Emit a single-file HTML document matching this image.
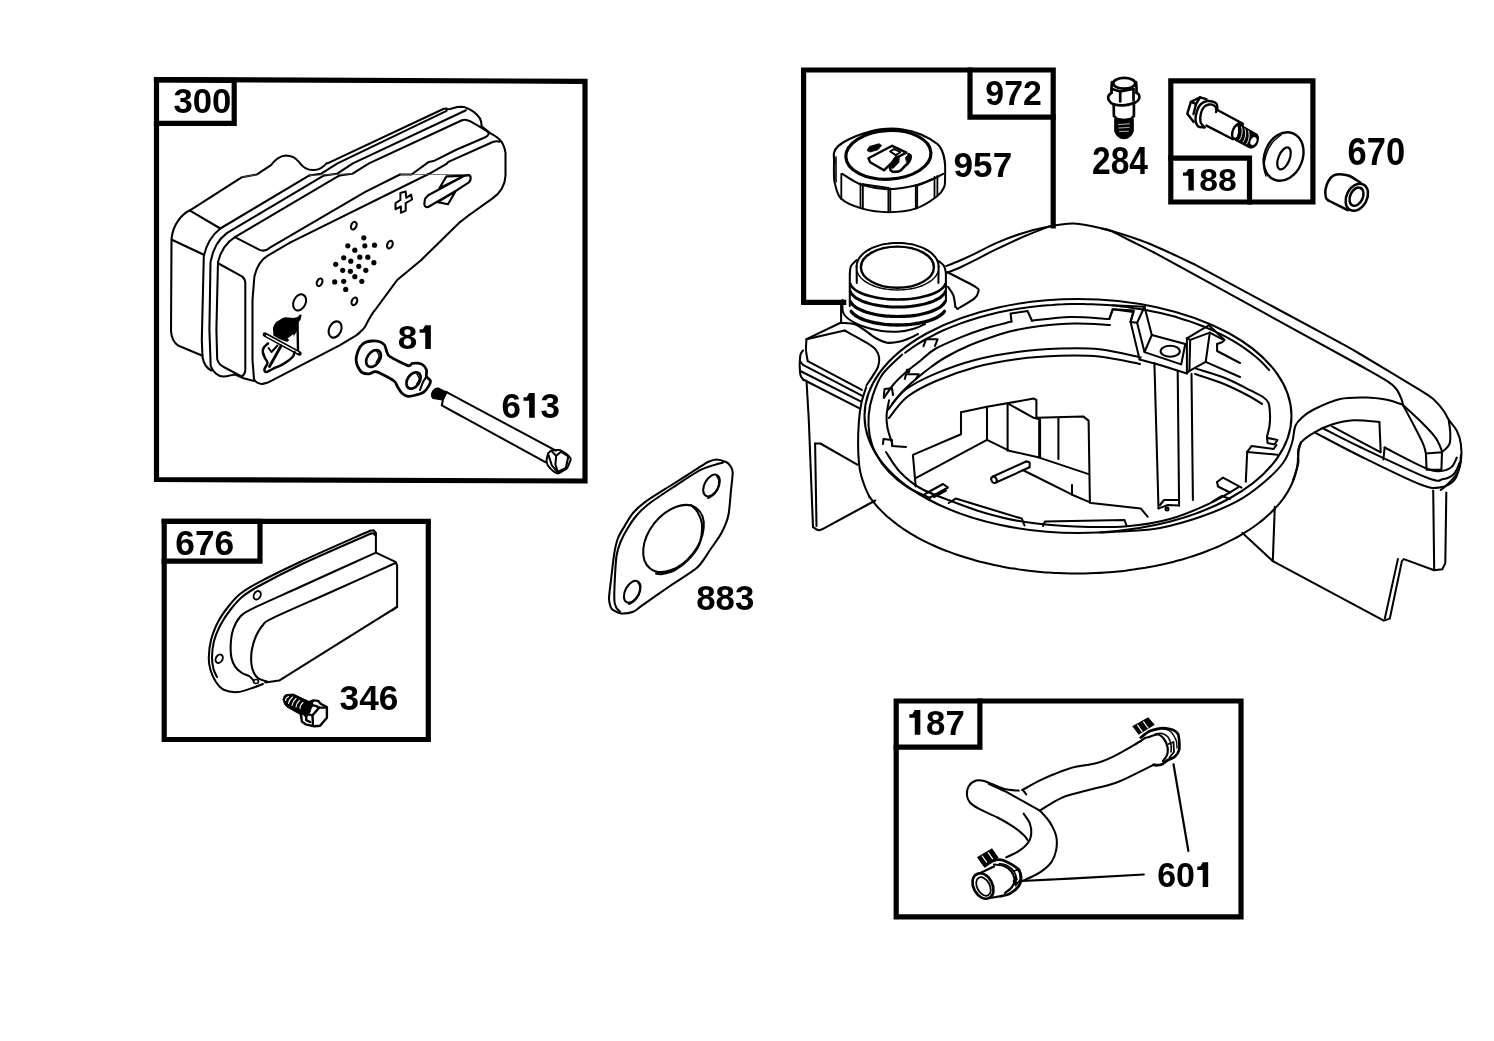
<!DOCTYPE html>
<html><head><meta charset="utf-8"><style>
html,body{margin:0;padding:0;background:#fff;width:1494px;height:1041px;overflow:hidden}
svg{display:block}
.lbl{filter:grayscale(1)}
.B{fill:none;stroke:#000;stroke-width:5.2;stroke-linejoin:miter;stroke-linecap:square}
.T path,.T ellipse,.T circle,.T polyline,.T line{fill:none;stroke:#000;stroke-width:var(--sw,2.05);stroke-linejoin:round;stroke-linecap:round}
.D circle{fill:#000;stroke:none}
.T .seam{stroke-width:0.8;stroke:#555}
.T .F{fill:#000}
.L{font-family:"Liberation Sans",sans-serif;font-weight:bold;font-size:100px;fill:#000}
</style></head><body>
<svg width="1494" height="1041" viewBox="0 0 1494 1041">

<path class="B" d="M156.5,79.5 L585,81.3 L585,481 L156.5,479.5 Z"/>
<path class="B" d="M156.5,79.8 L234.2,80.3 L234.2,123.3 L156.5,123.3"/>
<path class="B" d="M164.2,521.4 L428.3,521.4 L428.3,739.5 L164.2,739.5 Z"/>
<path class="B" d="M164.2,521.4 L260,521.4 L260,561.2 L164.2,561.2"/>
<path class="B" d="M843.7,302.3 L803.6,302.3 L803.6,70 L1053.2,70 L1053.2,226"/>
<path class="B" d="M970,70 L970,117.1 L1053.2,117.1"/>
<path class="B" d="M1170.8,80.8 L1312.9,80.8 L1312.9,202 L1170.8,202 Z"/>
<path class="B" d="M1170.8,158.1 L1249.5,158.1 L1249.5,202"/>
<path class="B" d="M896.2,701 L1241,701 L1241,916.8 L896.2,916.8 Z"/>
<path class="B" d="M896.2,747.2 L979.9,747.2 L979.9,701"/>

<g class="lbl">
<g transform="matrix(0.3472,0,0,0.3563,173.41,112.64)"><text x="0.0" y="0" class="L">3</text><text x="55.6" y="0" class="L">0</text><text x="111.2" y="0" class="L">0</text></g>
<g transform="matrix(0.3535,0,0,0.3507,175.29,554.65)"><text x="0.0" y="0" class="L">6</text><text x="55.6" y="0" class="L">7</text><text x="111.2" y="0" class="L">6</text></g>
<g transform="matrix(0.3522,0,0,0.3521,339.60,709.85)"><text x="0.0" y="0" class="L">3</text><text x="55.6" y="0" class="L">4</text><text x="111.2" y="0" class="L">6</text></g>
<g transform="matrix(0.3511,0,0,0.3394,397.65,348.96)"><text x="0.0" y="0" class="L">8</text><path d="M23,-70 L39,-70 L39,0 L23,0 Z M7,-58 L23,-58 L23,-48 L7,-48 Z M23,-70 L16,-58 L23,-58 Z" transform="translate(55.6,0)" style="fill:#000;stroke:none"/></g>
<g transform="matrix(0.3503,0,0,0.3507,501.60,417.65)"><text x="0.0" y="0" class="L">6</text><path d="M23,-70 L39,-70 L39,0 L23,0 Z M7,-58 L23,-58 L23,-48 L7,-48 Z M23,-70 L16,-58 L23,-58 Z" transform="translate(55.6,0)" style="fill:#000;stroke:none"/><text x="111.2" y="0" class="L">3</text></g>
<g transform="matrix(0.3481,0,0,0.3535,696.26,610.25)"><text x="0.0" y="0" class="L">8</text><text x="55.6" y="0" class="L">8</text><text x="111.2" y="0" class="L">3</text></g>
<g transform="matrix(0.3384,0,0,0.3563,985.35,104.94)"><text x="0.0" y="0" class="L">9</text><text x="55.6" y="0" class="L">7</text><text x="111.2" y="0" class="L">2</text></g>
<g transform="matrix(0.3513,0,0,0.3507,953.59,176.55)"><text x="0.0" y="0" class="L">9</text><text x="55.6" y="0" class="L">5</text><text x="111.2" y="0" class="L">7</text></g>
<g transform="matrix(0.3362,0,0,0.3887,1091.99,174.21)"><text x="0.0" y="0" class="L">2</text><text x="55.6" y="0" class="L">8</text><text x="111.2" y="0" class="L">4</text></g>
<g transform="matrix(0.3447,0,0,0.3930,1347.62,164.51)"><text x="0.0" y="0" class="L">6</text><text x="55.6" y="0" class="L">7</text><text x="111.2" y="0" class="L">0</text></g>
<g transform="matrix(0.3369,0,0,0.3099,1180.64,190.59)"><path d="M23,-70 L39,-70 L39,0 L23,0 Z M7,-58 L23,-58 L23,-48 L7,-48 Z M23,-70 L16,-58 L23,-58 Z" transform="translate(0.0,0)" style="fill:#000;stroke:none"/><text x="55.6" y="0" class="L">8</text><text x="111.2" y="0" class="L">8</text></g>
<g transform="matrix(0.3477,0,0,0.3521,906.77,734.65)"><path d="M23,-70 L39,-70 L39,0 L23,0 Z M7,-58 L23,-58 L23,-48 L7,-48 Z M23,-70 L16,-58 L23,-58 Z" transform="translate(0.0,0)" style="fill:#000;stroke:none"/><text x="55.6" y="0" class="L">8</text><text x="111.2" y="0" class="L">7</text></g>
<g transform="matrix(0.3397,0,0,0.3521,1157.14,886.95)"><text x="0.0" y="0" class="L">6</text><text x="55.6" y="0" class="L">0</text><path d="M23,-70 L39,-70 L39,0 L23,0 Z M7,-58 L23,-58 L23,-48 L7,-48 Z M23,-70 L16,-58 L23,-58 Z" transform="translate(111.2,0)" style="fill:#000;stroke:none"/></g>
</g>

<g class="T">
<!-- back cap -->
<path d="M190,210.3 C182,214 173,224 171.5,239 L171,331 C171.5,338 173,342 178,345.5 L202.5,355.8"/>
<path d="M190,210.7 L220.3,228.5"/>
<path d="M171.9,239.8 L203.8,254.8"/>
<path d="M190,210.3 L242,177.2 L256.6,174.6 L271,165.2 C276,158 280,156 285.8,155.5 C292,155.5 296,158 299,162 C303,168 308,170.5 314.6,170 C320,169.5 323,168 326.7,163"/>
<!-- flange lines -->
<path d="M309.4,175.4 L220.3,228.5 C212,235 206,246 203.8,256 L201.8,340 L202.5,357 C203.5,363 206.5,368 211.2,370.5"/>
<path d="M324.1,175.4 L227.2,232.8 C220,238 213,248 210.5,262 L209.4,330 L210.7,366.2 C213,372 218,376.5 223,376.6 C227,376.6 230,375.5 234.5,374.4"/>
<path d="M339.5,175.4 L234.9,237.1 C227,242 221,250 218,262 L216.4,330 L217.2,359.3 C218.5,363.5 221,366 224.6,367.5 L241.9,376.6"/>
<!-- front body left face -->
<path d="M218.5,263.5 L241.9,276.4 C244,278 245.3,280 245.3,283 L245.3,370 C245.3,373 244,375 241.9,376.6"/>
<path d="M234.5,374.4 L243.6,378.3 L254,380.9"/>
<!-- front body top face / front face edges (below seam) -->
<path d="M234.9,237.1 L259.1,249.6 C262,251 266,251 269.5,247.9 L365.3,191.9 L400,174.5"/>
<path d="M290,242.7 L267.8,255.7 C262,259 257,266 254.4,276.4 L252.5,300 L252.5,360 L254,379.1 C255.5,382 258,383.5 261.7,383.9 C264,384 266,383 267.8,382.6 L340,345.1 L356.7,335.1 C360,332 363,330 365.1,326.7 C369,319 372,313 375.1,310 L396.9,280.3 L421,260.2 L460,222.1 L469.2,215"/>
<path d="M290,242.7 L427.6,174.5"/>
<!-- upper lines above seam -->
<path d="M327.5,163.4 L443.8,108.8 L446.6,108.5"/>
<path d="M309.4,175.4 L320.8,173.8 L337.5,163.4 L446.6,110.8"/>
<path d="M446,109.2 L450,109.1 L457.4,107.1 C460,106.8 462,106.8 463.7,107.1 C465,107.3 466,107.7 467.1,108.2 C472,110 476,113 479.6,117.9 C481,120 481.5,123 481.6,126.4"/>
<path d="M324.1,175.4 L336.9,173.8 L352.9,163.4 L466,110.2"/>
<path d="M339.5,175.4 L352.2,173.8 L369,163.4 L462,120.2 C464.8,119 467,119.5 470.5,121.3 L481.3,127.6 L487.6,131.6 C489.5,133 489,135.5 485.3,137.2 L455.7,150 L434.6,160.7 L428.8,161.9 L411.5,174.5 L400,174.5"/>
<path d="M481.6,126.4 L490.4,133.3 C495,136 497,137 499,139 C502,141.5 504.1,144.6 505.5,152.6 L505.5,175.7 C505,186 499,194 492.2,198.7 L469.2,215"/>
<path d="M499.5,141.8 C498.5,141.3 497.5,141.1 496.7,141.2 L493.3,141.8 L448.4,161.9 L446.1,164.2 L430,173.4 L427.6,174.5"/>
<path class="seam" d="M242,177.2 L256.6,174.6 M309.4,175.4 L352.2,173.8 M400,174.5 L470,174.5"/>
<!-- holes -->
<ellipse cx="353.8" cy="225.7" rx="2.6" ry="4" transform="rotate(25 353.8 225.7)"/>
<ellipse cx="389.9" cy="244.6" rx="2.6" ry="4" transform="rotate(25 389.9 244.6)"/>
<ellipse cx="319.6" cy="282.3" rx="2.6" ry="4" transform="rotate(25 319.6 282.3)"/>
<ellipse cx="354.4" cy="301.4" rx="2.6" ry="4" transform="rotate(25 354.4 301.4)"/>
<ellipse cx="299.6" cy="302.4" rx="6" ry="8.5" transform="rotate(25 299.6 302.4)"/>
<ellipse cx="335.1" cy="329.5" rx="6" ry="8.5" transform="rotate(25 335.1 329.5)"/>
<!-- plus and diamond logos -->
<path d="M400.4,193 L405.7,191.4 L406.2,197.8 L411.1,194.6 L412.1,199.5 L405.7,203.2 L405.7,210.7 L400.9,212.8 L400.9,206.4 L395.5,209.3 L395.5,203.2 L400.4,200 Z" style="stroke-width:2"/>
<path d="M425,198.9 L428.2,195.2 L439.4,189.3 L464.1,175.9 L468.9,175.1 L470.5,176.4 C471,179 470.5,181 468.9,182.3 L456.6,190.3 L428.2,207 C426,207.5 424.5,206.5 424.3,204 Z" style="stroke-width:2.1"/>
<path d="M446.4,176.4 L464.1,175.9 L439.4,188.2 Z" style="stroke-width:2.1"/>
<path d="M455.5,191.4 L448,204.3 L437.8,202.1 Z" style="stroke-width:2.1"/>
</g>
<g class="D">
<circle cx="363.8" cy="237.8" r="2.6"/><circle cx="347.8" cy="245.8" r="2.6"/><circle cx="364.8" cy="245.8" r="2.6"/><circle cx="374.5" cy="245.2" r="2.6"/><circle cx="354.8" cy="250.2" r="2.6"/><circle cx="343.7" cy="257.8" r="2.6"/><circle cx="359.8" cy="257.2" r="2.6"/><circle cx="367.8" cy="257.2" r="2.6"/><circle cx="335.7" cy="264.3" r="2.6"/><circle cx="350.8" cy="261.2" r="2.6"/><circle cx="373.9" cy="262.7" r="2.6"/><circle cx="358.8" cy="266.3" r="2.6"/><circle cx="342.7" cy="270.3" r="2.6"/><circle cx="350.4" cy="271.3" r="2.6"/><circle cx="365.8" cy="270.3" r="2.6"/><circle cx="354.8" cy="276.7" r="2.6"/><circle cx="334.7" cy="281.9" r="2.6"/><circle cx="343.7" cy="281.3" r="2.6"/><circle cx="361.8" cy="281.3" r="2.6"/><circle cx="345.7" cy="289.4" r="2.6"/></g>
<g class="T"><path class="F" d="M274,328 C275,324 277,322 279.6,321.1 C282,319.5 284,318.3 285.5,318.2 L294,319 L298,318 L300.5,315.5 L299.5,319.5 L297.2,322 L296.5,330 L292.6,336.1 L287,340.7 L279.6,338.1 L274.3,334.8 Z"/><path d="M287.5,338.5 L293.5,334 L294,344.5Z" style="fill:#fff;stroke:none"/><path d="M297.5,321 L298,351" style="stroke-width:2.4"/><path d="M264.8,334.5 L299.5,353.5" style="stroke-width:4.4;stroke-linecap:round"/><path d="M266.5,335.6 L298,352.6" style="stroke:#fff;stroke-width:1.3"/><path d="M268,343.5 C267.3,344.2 264.7,346.1 263.8,347.5 C262.9,348.9 262.6,350.2 262.8,352 C263,353.8 264.2,356.2 265,358 C265.8,359.8 267.6,361.2 267.5,363 C267.4,364.8 264.8,367.5 264.5,369 C264.2,370.5 264.6,372 266,372 C267.4,372 270,370.2 273,368.8 C276,367.4 280.7,365.6 284,363.6 C287.3,361.6 290.9,358.9 292.6,357 C294.4,355.1 294.2,352.8 294.5,352" style="stroke-width:2.5"/><path d="M268.5,348 L271.5,352 L277.5,345.5" style="stroke-width:2"/><path d="M281,346 L269.5,366.5" style="stroke-width:2.8"/></g>
<g class="T"><path d="M356.7,355.2 C357.2,353.3 358.9,348.7 360,347 C361.1,345.3 363.4,343.3 365,342.5 C366.6,341.7 370.1,341.1 372,341 C373.9,340.9 377.3,341 379,341.5 C380.7,342 383.4,343.6 384.5,345 C385.6,346.4 386.2,350.5 386.9,352 C387.6,353.5 387.2,354.8 390,356.6 C392.8,358.4 405.1,364.7 408,365.6 C410.9,366.5 410.7,363.8 412,363.5 C413.3,363.2 416.2,363 417.7,363.2 C419.2,363.4 421.8,364.1 423,365 C424.2,365.9 426,368.5 426.5,370 C427,371.5 425.9,375.1 426.4,376.5 C426.9,377.9 430.1,379.4 430.4,380.7 C430.7,382 429.5,384.6 428.6,386.1 C427.7,387.6 425.4,390.9 423.7,392.1 C422,393.3 418.1,394.4 416,395 C413.9,395.6 409.9,396.5 408,396.3 C406.1,396.1 403.4,394.5 402,393.3 C400.6,392.1 398.9,388.9 397.8,387.3 C396.7,385.7 396.8,383.1 394,381 C391.2,378.9 380.1,372.9 376.8,371.9 C373.5,370.9 371,373.7 369,373.8 C367,373.9 363.5,373.4 362,372.5 C360.5,371.6 358.8,368.5 358,367 C357.2,365.5 356.4,362.6 356.2,361 C356,359.4 356.2,357.1 356.7,355.2Z" style="stroke-width:2.8"/><ellipse cx="373.5" cy="358.5" rx="6.2" ry="9.3" transform="rotate(35 373.5 358.5)" style="stroke-width:2.7"/><path d="M376.6,351 C377,351.9 379.1,354.6 379,356.5 C378.9,358.4 376.5,361.5 376,362.5" style="stroke-width:1.3"/><ellipse cx="413.5" cy="380.5" rx="6" ry="9" transform="rotate(35 413.5 380.5)" style="stroke-width:2.7"/><path d="M416.8,374 C417.2,374.8 419.2,377.3 419.2,379 C419.2,380.7 417,383.2 416.6,384" style="stroke-width:1.3"/><path d="M426.4,376.5 L423,382 L420,390"/></g>
<g class="T"><path class="F" d="M432.2,393.3 C433,390 436,388 438.2,388.5 L443,390.9 L446.6,392.1 L443,399.3 L440.6,399.3 L433.4,398.1 C432,397 431.8,395 432.2,393.3Z"/><path d="M446.6,392.1 L555.9,450.6"/><path d="M443,399.3 L441.8,405.4 L545.8,462.3"/><path d="M548.2,453.3 C548.5,453 550.6,450.8 551.4,450.5 C552.2,450.2 555.3,450.1 556.2,450.1 C557.1,450.1 559.2,449.8 560.2,450.1 C561.2,450.4 565,452.8 566,453.5 C567,454.2 569.4,456.7 569.9,457.3 C570.4,457.9 570.8,459 570.7,459.7 C570.6,460.4 569.4,463.1 569,464 C568.6,464.9 567.4,467.9 566.7,468.6 C566,469.4 562.9,471 562,471.5 C561.1,472 558.8,473.5 557.8,473.4 C556.8,473.3 553.2,471 552.2,470.2 C551.2,469.4 548.4,466.3 547.8,465.3 C547.2,464.3 546.6,461.7 546.6,460.5 C546.6,459.3 548,454 548.2,453.3" style="stroke-width:2"/><path d="M556.2,455.7 L561,451.7 L568.3,456.5 L565.9,467.8 L557.8,471.8 L555.4,464.5 L556.2,455.7"/><path d="M551.4,450.9 L556.2,456"/><path d="M548.5,455 L551.8,465.3 L557.8,472.2"/></g>
<g class="T"><path d="M370.1,530.7 C359.6,535.4 317.1,554 300,562 C282.9,570 265,579 256,583.8 C247,588.6 244.2,590.5 240,594 C235.8,597.5 231.3,602.8 228,607 C224.7,611.2 220.6,617 218,622 C215.4,627 212.4,634.7 211,640 C209.6,645.3 208.9,653 208.8,657.5 C208.7,662 209.4,666.3 210.5,670 C211.6,673.7 214,679 216,682 C218,685 220.6,688.3 223.8,689.8 C227,691.3 233.1,692.4 237.6,692.1 C242.1,691.8 249.9,688.7 253.7,687.5 C257.5,686.3 261.6,684.5 263,684"/><path d="M371,533.5 C360.4,538.2 316.9,557 300,565 C283.1,573 266.7,581.7 258,586.5 C249.3,591.3 246.1,593.6 242,597 C237.9,600.4 234.2,605 231,609 C227.8,613 223.6,619.2 221,624 C218.4,628.8 215.3,636 214,641 C212.7,646 212.1,652.8 212,657 C211.9,661.2 212.8,666 213.5,669 C214.2,672 216.5,675.8 217,677"/><path d="M370.1,530.7 L373.5,530.3 L375.9,533 L375.9,552.6"/><path d="M371,533.5 L373.5,533.3 L375,535"/><path d="M375.9,552.6 C364.5,557.8 318.7,578.5 300,587 C281.3,595.5 260.4,604.6 251.4,609.1 C242.4,613.6 242.8,613.9 240,617 C237.2,620.1 234.4,625.8 233,630 C231.6,634.2 230.9,640.8 230.7,645 C230.5,649.2 230.8,654.7 231.5,658 C232.2,661.3 233.7,664.5 235.3,666.8 C236.9,669 239.9,671.6 242,673 C244.1,674.4 247.3,674.9 249.1,676 C250.9,677.1 253,679.9 253.7,680.6"/><path d="M375.9,552.6 L395.5,561.9 L397.1,565.3 L397.1,606.8 L392,610.3"/><path d="M395.5,563 C385.7,567.4 348.5,584.2 330,592.5 C311.5,600.8 282.2,613.4 272.2,618.3 C262.1,623.2 265.4,622.3 263,625 C260.6,627.7 257.7,632.2 256,636 C254.3,639.8 252.5,645.8 251.8,650 C251.1,654.2 251.1,660.5 251.4,664 C251.7,667.5 253,670.9 254,673 C255,675.1 256.3,677 258.3,678.3 C260.3,679.6 266.2,681.2 267.6,681.7"/><path d="M397.1,606.8 L279.1,680.6 L265.3,682.4"/><ellipse cx="257.2" cy="595.3" rx="3.3" ry="4.5" transform="rotate(30 257.2 595.3)" style="stroke-width:1.9"/><ellipse cx="219.2" cy="658.7" rx="3.3" ry="4.5" transform="rotate(30 219.2 658.7)" style="stroke-width:1.9"/><ellipse cx="256" cy="681.5" rx="2.5" ry="2" style="stroke-width:1.6"/></g>
<g class="T" style="--sw:2.4"><path class="F" d="M283.2,699.4 C283.5,696 285,694.6 287,694.5 L293.3,694.1 L309.6,701.8 L313.4,700.4 L310,712 L306,718 L303.8,714.8 L300.9,714.8 L287,707.1 C285,705.5 283.5,702.5 283.2,699.4 Z" style="stroke-width:1"/><path d="M288.5,696.5 Q285.5,698.0 285.5,700.5" style="stroke:#fff;stroke-width:1.1"/><path d="M292.5,697 Q289.0,699.75 288.5,703.5" style="stroke:#fff;stroke-width:1.1"/><path d="M296,698.5 Q292.5,701.5 292,705.5" style="stroke:#fff;stroke-width:1.1"/><path d="M299.5,700.5 Q296.25,703.25 296,707" style="stroke:#fff;stroke-width:1.1"/><path d="M303,702.5 Q300.0,705.0 300,708.5" style="stroke:#fff;stroke-width:1.1"/><path d="M300.9,714.8 L301.9,721.5 L305.7,724.4 L314.4,726.3 L320.1,725.8 L326.9,717.7 L326.9,707.1 L320.6,703.7 L318.2,700.9 L313.4,700.4 L309.6,701.8"/><path d="M312.5,715.3 L319.2,707.6 L325.4,707.6"/><path d="M312.5,715.3 L312.9,724.4"/><path d="M307.2,711.4 L312.5,705.2 L316.3,706.1 L319.2,707.6"/><path d="M306.2,713.8 L312.5,715.3"/><path d="M306.2,713.8 L306.2,720.1 L310.1,722"/></g>
<g class="T"><path d="M716.2,459.5 C718.6,459.5 724.1,461.2 726,462 C727.9,462.8 729.2,464.2 730.1,465.6 C731,467 732.6,469.2 732.7,472.5 C732.8,475.8 731.6,484.2 731,490 C730.4,495.8 729.6,510 728.3,515.7 C727,521.4 723.8,528.4 721.4,533 C719,537.6 713.2,545.4 710,550 C706.8,554.6 702.5,562.8 697.2,567.6 C691.9,572.4 677.4,580.9 670,586 C662.6,591.1 646.8,602.2 641.9,605.6 C637,609 636,610.7 633.2,611.7 C630.4,612.7 623.8,613.6 621.1,613.4 C618.4,613.2 614.4,610.8 613,610 C611.6,609.2 611.3,608.9 610.8,607.4 C610.3,605.9 609,602.4 609,598.7 C609,595 610.3,586 611,580 C611.7,574 613.3,559.4 614.2,553.8 C615.1,548.2 616.6,541.7 618,538 C619.4,534.3 622.6,529.4 624.6,526.1 C626.6,522.8 630.2,516.2 633,513 C635.8,509.8 640.4,505.5 645.3,501.9 C650.2,498.3 662.6,490.7 670,486 C677.4,481.3 695.6,469.6 700.7,466.4 C705.8,463.2 705.9,462.9 708,462 C710.1,461.1 713.8,459.5 716.2,459.5Z"/><path d="M723,462.5 C720,463.5 707.5,466.4 700.7,469.8 C693.9,473.2 679,483.4 672,488 C665,492.6 652.7,500.8 648,504.5 C643.3,508.2 639.2,512.3 636.5,515.5 C633.8,518.7 629.6,525 627.5,528.5 C625.4,532 622,538.3 620.5,542 C619,545.7 617.3,550.9 616.5,556 C615.7,561.1 615.1,574 614.8,580 C614.5,586 614.2,597.3 614.4,601 C614.6,604.7 615.8,606.6 616.5,608 C617.2,609.4 619.5,611 620,611.5"/><ellipse cx="673.5" cy="538.5" rx="24.5" ry="38" transform="rotate(38 673.5 538.5)"/><path d="M691,505 C692.1,506.2 695.7,508.7 697.5,512 C699.3,515.3 701.8,519.5 702,525 C702.2,530.5 701.3,539.2 699,545 C696.7,550.8 692,555.8 688,560 C684,564.2 679.3,567.7 675,570 C670.7,572.3 665.2,573.4 662,574 C658.8,574.6 657,573.6 656,573.5"/><ellipse cx="711.5" cy="485.5" rx="7" ry="11.8" transform="rotate(28 711.5 485.5)"/><path d="M717,476 C717.3,476.7 718.8,478 719,480 C719.2,482 719,485.5 718,488 C717,490.5 714.7,493.3 713,495 C711.3,496.7 708.8,497.5 708,498"/><ellipse cx="632.2" cy="591.8" rx="7" ry="11.8" transform="rotate(28 632.2 591.8)"/><path d="M638,582 C638.3,582.7 639.8,584 640,586 C640.2,588 640,591.5 639,594 C638,596.5 635.7,599.3 634,601 C632.3,602.7 629.8,603.5 629,604"/></g>
<g class="T"><ellipse cx="888.4" cy="154.9" rx="42.6" ry="24.3" transform="rotate(-3 888.4 154.9)" style="stroke-width:3.2"/><path d="M834.5,163 C834.4,161.3 833.4,155.8 834,153 C834.6,150.2 835.9,148.2 838.4,145.9 C840.9,143.6 844.6,141.3 849,139.2 C853.4,137 859.4,134.7 865,133 C870.6,131.3 876.3,129.7 882.6,129.1 C888.9,128.5 896.6,128.6 903,129.5 C909.4,130.4 915.3,132 921,134.4 C926.7,136.8 933.8,141.1 937.4,144 C941,146.9 941.3,149.3 942.5,152 C943.7,154.7 944.1,157.8 944.5,160 C944.9,162.2 945,164.2 945.1,165.1" style="stroke-width:2.2"/><path d="M842.3,173.8 C843.9,174.8 848.5,178.1 852,180 C855.5,181.9 857.5,183.8 863.4,185.3 C869.3,186.8 878.6,189.2 887.4,189.2 C896.2,189.2 908.7,187 916.3,185.3 C923.9,183.6 928.5,180.9 933,179 C937.5,177.1 941.5,174.7 943.2,173.8" style="stroke-width:2"/><path d="M834,160 C834,162.7 833.8,172 834,176 C834.2,180 833.8,180.2 835,184 C836.2,187.8 836.9,194.7 841.3,198.8 C845.7,202.9 853.6,206.2 861.5,208.4 C869.4,210.6 879.3,212.2 888.4,212.2 C897.5,212.2 908.3,211 916.3,208.4 C924.3,205.8 931.8,200.3 936.4,196.8 C941,193.3 942.6,190.8 944.1,187.2 C945.6,183.6 944.9,178.7 945.1,175 C945.3,171.3 945.1,166.8 945.1,165.1" style="stroke-width:2"/><path d="M841.3,174 L841.3,199" style="stroke-width:1.8"/><path d="M860.5,183.5 L860.5,208" style="stroke-width:1.8"/><path d="M862.9,184 L862.9,208.5" style="stroke-width:1.8"/><path d="M888.4,188.5 L888.4,212" style="stroke-width:1.8"/><path d="M890.3,188.5 L890.3,212" style="stroke-width:1.8"/><path d="M915.8,185 L915.8,208.5" style="stroke-width:1.8"/><path d="M917.2,185 L917.2,208" style="stroke-width:1.8"/><path d="M934.5,177 L934.5,197.5" style="stroke-width:1.8"/><path d="M937.4,176 L937.4,196" style="stroke-width:1.8"/><path d="M862.9,184.2 L888.4,188 L888.4,189" style="stroke-width:2"/><path d="M915.8,186 L933,179" style="stroke-width:2"/><path d="M836,157 L836,182" style="stroke-width:1.6"/><path class="F" d="M867.3,150.4 C868,148 869,146.8 870.2,146.2 L879.1,143.7 L881.6,145.5 L878,149.7 L870.5,151.9 Z" style="stroke-width:0.8"/><path d="M868.4,158.3 L892.2,145.8 L906.4,152.6 L897,157.5 L884,170.3 L870.2,162.2 L868.4,158.3" style="stroke-width:2.4"/><path d="M890.1,151.5 L894,149 L900.4,152.2 L895.8,155.1 L890.1,151.5" style="stroke-width:1.9"/><path class="F" d="M895.5,156.5 L899.5,156 L898.8,162.5 L893,168.5 L889.8,167.5 L892,161.5 Z" style="stroke-width:0.8"/><path d="M895.4,158 C894.8,159 892.4,162.2 891.5,164 C890.6,165.8 889.9,167.3 890,168.5 C890.1,169.7 891.1,170.8 892,171.3 C892.9,171.9 894.2,171.9 895.5,171.8 C896.8,171.7 898.5,171.7 900,170.8 C901.5,169.9 903.1,167.8 904.5,166.5 C905.9,165.2 907.2,164.2 908.2,162.9 C909.2,161.6 910.1,159.7 910.5,158.5 C910.9,157.3 910.8,156.2 910.5,155.5 C910.2,154.8 908.8,154.4 908.5,154.2" style="stroke-width:2.6"/><path class="F" d="M905.5,157.5 L908.5,154.2 L911,156 L910.5,160 L907.5,164 Z" style="stroke-width:0.8"/></g>
<g class="T" style="--sw:2.7"><ellipse cx="1124.2" cy="83.3" rx="11" ry="5.4"/><path d="M1112,82 C1111.9,83 1111.6,86.2 1111.5,88 C1111.4,89.8 1111.6,92.2 1111.6,93"/><path d="M1136,82 C1136.1,83 1136.4,86.2 1136.5,88 C1136.6,89.8 1136.5,92.2 1136.5,93"/><path d="M1111.6,92.5 C1111.1,93.1 1109,94.8 1108.5,96 C1108,97.2 1108,98.7 1108.7,100 C1109.5,101.3 1110.5,103 1113,103.9 C1115.5,104.8 1120.1,105.5 1123.8,105.3 C1127.5,105 1132.8,103.5 1135.3,102.4 C1137.8,101.4 1138.4,100.2 1139,99 C1139.6,97.8 1139.4,96.1 1139,95 C1138.6,93.9 1136.9,92.9 1136.5,92.5"/><path d="M1112,89 L1120.2,91.5 L1133.5,89"/><path d="M1120.2,91.5 L1120.2,101.5"/><path d="M1133.5,89.5 L1133.5,100.5"/><path d="M1113.7,104.5 L1113.9,116 L1117,119 L1124,120 L1131,119 L1133.9,116 L1133.9,104.5"/><path class="F" d="M1115.5,119.7 C1120,120.8 1128,120.8 1132.5,119.7 L1132.5,131 C1131,135 1128,137.8 1124,137.8 C1120,137.8 1117,135 1115.5,131Z"/><path d="M1118.5,124.5 L1129.5,123.8 M1119,128 L1129,127.5 M1119.5,131.5 L1128.5,131.2" style="stroke:#fff;stroke-width:0.7"/></g>
<g class="T" style="--sw:2.4"><path d="M1193.7,121.9 L1187.3,113.7 L1190.9,101.9 L1200.1,97.3 L1206.5,99.1"/><path d="M1190.9,101.9 L1196,104 L1200.1,97.3"/><path d="M1196,104 L1193.5,114"/><path d="M1204.6,127.4 C1203.5,127.2 1199.7,127.7 1198.2,126.5 C1196.7,125.3 1195.7,122.7 1195.5,120 C1195.3,117.3 1196.4,112.8 1197.3,110.1 C1198.2,107.4 1199.3,105.5 1201,104 C1202.7,102.5 1205,101.2 1207.4,101 C1209.8,100.8 1213.9,101.8 1215.6,102.8 C1217.3,103.8 1217.3,105.8 1217.4,107.3 C1217.5,108.8 1216.2,111.2 1216,112"/><path d="M1204.6,127.4 C1203.9,126.5 1201.1,124.4 1200.5,122 C1199.9,119.6 1200.4,115.5 1201,113 C1201.6,110.5 1202.7,108.4 1204,107 C1205.3,105.6 1207.3,104.8 1209,104.5 C1210.7,104.2 1212.7,104.8 1214,105.5 C1215.3,106.2 1216.5,108.4 1217,109"/><path d="M1216,109.2 L1243,123.8"/><path d="M1206.5,125.6 L1232.9,139.3"/><ellipse cx="1237.5" cy="131.1" rx="4.6" ry="8.3" transform="rotate(25 1237.5 131.1)"/><path class="F" d="M1238,124 L1256.6,134.7 C1258,137 1258,141 1256,144.5 C1254,147 1251,148 1249.3,147 L1236,140 C1239,136 1240.5,130 1238,124Z"/><path d="M1241.5,127 C1243,131 1242,137 1239.5,140 M1245,129 C1246.5,133 1245.5,139 1243,142 M1248.5,131 C1250,135 1249,141 1246.5,144" style="stroke:#fff;stroke-width:0.9"/><ellipse cx="1253.4" cy="141.1" rx="2.5" ry="4" transform="rotate(25 1253.4 141.1)" style="stroke:#fff;fill:#fff;stroke-width:0.5"/><ellipse cx="1283.6" cy="156.5" rx="19" ry="25" transform="rotate(22 1283.6 156.5)"/><path d="M1266,176 C1265.7,174.7 1264,171.5 1264,168 C1264,164.5 1264.7,159.2 1266,155 C1267.3,150.8 1269.5,146.3 1272,143 C1274.5,139.7 1279.5,136.3 1281,135" style="stroke-width:1.4"/><ellipse cx="1284" cy="158.4" rx="5.6" ry="11.6" transform="rotate(22 1284 158.4)" style="stroke-width:2.2"/></g>
<g class="T" style="--sw:2.5"><path d="M1360.6,182.8 C1358.8,181.7 1352.7,177.4 1349.6,176 C1346.5,174.6 1344.6,174.5 1341.9,174.4 C1339.2,174.3 1335.5,174.5 1333.3,175.6 C1331.1,176.7 1329.8,178.8 1328.5,181 C1327.2,183.2 1326,186.2 1325.6,189 C1325.2,191.8 1325.5,195.8 1326,197.7 C1326.5,199.6 1328,200 1328.4,200.5"/><path d="M1328.4,200.5 L1347.7,210.1"/><ellipse cx="1356.8" cy="197.2" rx="10.2" ry="14.3" transform="rotate(28 1356.8 197.2)"/><ellipse cx="1356.5" cy="196.7" rx="6.3" ry="9.6" transform="rotate(25 1356.5 196.7)"/></g>
<g class="T"><path d="M946.3,266 C948.6,265.1 955.2,262.6 960,260.5 C964.8,258.4 969.1,256.6 975,253.7 C980.9,250.8 988,246.7 995.5,243.4 C1003,240.1 1011.1,236.8 1020,234 C1028.9,231.2 1040,228.3 1048.9,226.6 C1057.9,224.8 1064.8,223.2 1073.7,223.5 C1082.6,223.8 1091.1,225.7 1102.2,228.5 C1113.3,231.3 1129.5,236.4 1140.3,240.2 C1151.1,244 1158,247.5 1167,251.5 C1176,255.5 1189.6,262.1 1194.1,264.2"/><path d="M1194.1,264.2 L1340,342.7"/><path d="M1340,342.7 C1343.3,344.6 1346.6,346.1 1360,354 C1373.4,361.9 1408.2,382.7 1420.5,390.3 C1432.8,397.9 1430.2,396.4 1434,399.8 C1437.8,403.2 1440.9,407.1 1443.4,410.5 C1445.9,413.9 1446.6,416.5 1448.8,419.9 C1451,423.3 1454.8,426.7 1456.8,430.7 C1458.8,434.7 1460.2,439 1460.9,444.1 C1461.6,449.2 1461.6,456.7 1460.9,461.6 C1460.2,466.5 1459,469.9 1456.8,473.7 C1454.5,477.5 1450.1,481.8 1447.4,484.5 C1444.7,487.2 1441.8,489.1 1440.7,490"/><path d="M947.7,272.5 C949.8,271.7 955.5,269.6 960,267.5 C964.5,265.4 969.1,263.2 975,260.2 C980.9,257.2 987.2,253.7 995.5,249.7 C1003.8,245.7 1016.1,239.8 1025,236 C1033.9,232.2 1044.9,228.2 1048.9,226.6"/><path d="M1102,228.7 C1103.5,229 1106.1,228.8 1110.8,230.8 C1115.5,232.8 1122.8,236.9 1130,240.5 C1137.2,244.1 1149.8,250.3 1153.8,252.3"/><path d="M1153.8,252.3 L1360,365.5"/><path d="M1360,365.5 C1364.5,368.1 1380.9,377 1386.9,380.9 C1393,384.8 1393.8,385.9 1396.3,389 C1398.8,392.1 1400.6,397.1 1401.7,399.8 C1402.8,402.5 1402.8,404.2 1403,405.1"/><path d="M1403,405.1 C1404.8,408.5 1410.4,418.8 1413.8,425.3 C1417.2,431.8 1421.2,439.4 1423.2,444.1 C1425.2,448.8 1425.5,452 1425.9,453.6"/><path d="M1403,405.1 C1405.9,407.8 1415.1,415.9 1420.5,421.3 C1425.9,426.7 1431.7,432.4 1435.3,437.4 C1438.9,442.3 1440.9,448.7 1442,451"/><path d="M1425.9,453.6 L1442,452.2 L1441.4,469.7 L1426.6,469.7 L1425.9,453.6"/><path d="M1448.8,421 C1449,422.8 1450.1,428.1 1450.2,432 C1450.3,435.9 1450.8,440.7 1449.4,444.1 C1448,447.5 1443.2,450.9 1442,452.2"/><path d="M1100,532.5 C1105,532.2 1120,531.8 1130,531 C1140,530.2 1148.3,530.3 1160,528 C1171.7,525.7 1187.2,521.4 1200,517 C1212.8,512.6 1226.6,506.9 1236.9,501.4 C1247.2,495.9 1254.3,490.4 1262,484 C1269.7,477.6 1278,469.8 1283,463 C1288,456.2 1290,449.2 1292,443 C1294,436.8 1293.6,430.2 1295.3,426 C1297,421.8 1298.9,420.2 1302,417.5 C1305.1,414.8 1307.4,412.6 1313.7,409.5 C1320,406.4 1331.2,401 1340,399 C1348.8,397 1358.7,397.4 1366.5,397.5 C1374.3,397.6 1381.3,398.8 1386.9,399.8 C1392.5,400.9 1397.6,402.9 1400.3,403.8 C1403,404.7 1402.5,404.9 1403,405.1"/><path d="M1217,482 L1223,477.6 L1241.5,487.6"/><path d="M1217,482 L1218,486.5 L1230,492.5"/><path d="M1293,480.4 C1293.9,477.6 1297.3,468.5 1298.2,463.5 C1299.1,458.5 1297.6,454.1 1298.2,450.5 C1298.8,446.9 1298.9,444.9 1301.6,441.9 C1304.3,438.9 1309.5,435.3 1314.6,432.4 C1319.6,429.5 1325.4,426.6 1331.9,424.6 C1338.4,422.6 1345.6,420.7 1353.5,420.3 C1361.4,419.9 1375.1,421.7 1379.4,422"/><path d="M1379.4,422 L1380.7,452.2"/><path d="M1314.6,432.4 C1322.2,436.3 1342.3,447.3 1360,456 C1377.7,464.7 1407,479.3 1420.5,484.5 C1434,489.7 1435.1,487.9 1440.7,487.2 C1446.3,486.5 1451,483.8 1454.1,480.4 C1457.2,477 1458.4,471.2 1459.5,467 C1460.6,462.8 1460.7,457 1460.9,455"/><path d="M1322.4,428 C1328.7,431.2 1342.5,438.7 1360,447 C1377.5,455.3 1413.3,472.4 1427.2,477.8 C1441.1,483.2 1438.9,479.8 1443.4,479.1 C1447.9,478.4 1451.4,476.4 1454.1,473.7 C1456.8,471 1458.6,464.8 1459.5,463"/><path d="M1331.9,426.3 L1360,441.4 L1380.3,452.2"/><path d="M1384.6,447.5 C1391.5,451 1416.6,464.4 1425.9,468.3 C1435.2,472.2 1436.4,471.2 1440.7,471 C1445,470.8 1448.8,469.2 1451.5,467 C1454.2,464.8 1455.9,459.2 1456.8,457.6"/><path d="M1384.6,447.5 L1383.4,459.5"/><path d="M1242.5,532.9 L1272.8,561.1 L1383.8,620.6 L1389.8,618.6 L1401.9,561.1 L1403.9,559.1 L1434.2,570.2 L1442.3,569.2 L1445.3,563.1 L1446.3,492.5"/><path d="M1274.8,506.7 L1272.8,561.1"/><path d="M1433.2,490.5 L1434.2,569.2"/><path d="M1397.9,559.1 L1384.8,618.6"/><ellipse cx="1078" cy="416" rx="213.5" ry="117"/><path d="M905.2,352.8 C906.3,352 909.5,349.6 911.7,348 C914,346.4 916.3,344.9 918.8,343.4 C921.2,341.9 923.7,340.4 926.2,339 C928.8,337.5 931.4,336.1 934.1,334.8 C936.8,333.4 939.6,332.1 942.4,330.8 C945.2,329.5 948.1,328.3 951,327.1 C954,325.9 957,324.7 960,323.6 C963.1,322.5 966.2,321.4 969.3,320.4 C972.5,319.3 975.7,318.3 978.9,317.4 C982.2,316.5 985.5,315.6 988.8,314.7 C992.2,313.9 995.5,313.1 999,312.3 C1002.4,311.6 1005.8,310.9 1009.3,310.2 C1012.8,309.6 1016.3,309 1019.8,308.4 C1023.4,307.9 1026.9,307.4 1030.5,306.9 C1034.1,306.5 1037.7,306.1 1041.4,305.7 C1045,305.4 1048.6,305.1 1052.3,304.9 C1055.9,304.6 1059.6,304.4 1063.3,304.3 C1067,304.1 1070.6,304.1 1074.3,304 C1078,304 1081.7,304 1085.4,304.1 C1089,304.1 1092.7,304.3 1096.4,304.4 C1100.1,304.6 1103.7,304.8 1107.4,305.1 C1111,305.4 1114.6,305.7 1118.3,306.1 C1121.9,306.5 1125.5,306.9 1129,307.4 C1132.6,307.9 1136.2,308.4 1139.7,309 C1143.2,309.6 1146.7,310.2 1150.2,310.9 C1153.6,311.6 1157.1,312.3 1160.4,313.1 C1163.8,313.9 1167.2,314.7 1170.5,315.6 C1173.8,316.5 1177.1,317.4 1180.3,318.4 C1183.5,319.3 1186.7,320.3 1189.8,321.4 C1192.9,322.5 1196,323.6 1199,324.7 C1202,325.9 1205,327 1207.9,328.3 C1210.8,329.5 1213.7,330.8 1216.4,332.1 C1219.2,333.4 1221.9,334.7 1224.6,336.1 C1227.2,337.5 1229.8,339 1232.3,340.4 C1234.8,341.9 1237.3,343.4 1239.6,344.9 C1242,346.4 1244.3,348 1246.5,349.6 C1248.7,351.2 1250.9,352.8 1252.9,354.5 C1255,356.1 1257,357.8 1258.9,359.5 C1260.8,361.2 1262.6,363 1264.3,364.7 C1266,366.5 1268.4,369.2 1269.2,370.1"/><path d="M1298,456.5 C1298,457.4 1297.9,460.1 1297.8,461.9 C1297.6,463.8 1297.4,465.6 1297,467.4 C1296.7,469.2 1296.3,471 1295.8,472.8 C1295.4,474.6 1294.8,476.4 1294.2,478.2 C1293.5,479.9 1292.8,481.7 1292,483.5 C1291.3,485.2 1290.4,487 1289.4,488.7 C1288.5,490.5 1287.5,492.2 1286.4,493.9 C1285.3,495.7 1284.1,497.4 1282.9,499.1 C1281.6,500.8 1280.3,502.4 1278.9,504.1 C1277.5,505.7 1276,507.4 1274.5,509 C1273,510.6 1271.3,512.2 1269.7,513.8 C1268,515.4 1266.2,517 1264.4,518.5 C1262.6,520 1260.7,521.6 1258.8,523 C1256.8,524.5 1254.8,526 1252.7,527.5 C1250.6,528.9 1248.5,530.3 1246.3,531.7 C1244.1,533.1 1241.8,534.5 1239.5,535.8 C1237.2,537.1 1234.8,538.4 1232.4,539.7 C1229.9,541 1227.4,542.2 1224.9,543.4 C1222.3,544.7 1219.7,545.8 1217.1,547 C1214.4,548.1 1211.7,549.3 1209,550.3 C1206.2,551.4 1203.4,552.5 1200.6,553.5 C1197.7,554.5 1194.9,555.5 1191.9,556.4 C1189,557.4 1186,558.3 1183,559.2 C1180,560 1177,560.9 1173.9,561.7 C1170.8,562.5 1167.7,563.2 1164.5,563.9 C1161.4,564.6 1158.2,565.3 1155,566 C1151.8,566.6 1148.6,567.2 1145.3,567.8 C1142,568.3 1138.7,568.9 1135.4,569.3 C1132.1,569.8 1128.8,570.3 1125.5,570.7 C1122.1,571.1 1118.8,571.4 1115.4,571.7 C1112,572 1108.6,572.3 1105.2,572.5 C1101.8,572.8 1098.4,573 1095,573.1 C1091.6,573.3 1088.1,573.4 1084.7,573.4 C1081.3,573.5 1077.9,573.5 1074.4,573.5 C1071,573.5 1067.6,573.4 1064.1,573.3 C1060.7,573.2 1057.3,573 1053.9,572.9 C1050.5,572.7 1047.1,572.4 1043.7,572.2 C1040.3,571.9 1036.9,571.6 1033.6,571.2 C1030.2,570.9 1026.9,570.5 1023.5,570 C1020.2,569.6 1016.9,569.1 1013.6,568.6 C1010.3,568.1 1007.1,567.5 1003.8,566.9 C1000.6,566.3 997.4,565.7 994.2,565 C991,564.3 987.9,563.6 984.8,562.8 C981.7,562.1 978.6,561.3 975.5,560.4 C972.5,559.6 969.5,558.7 966.5,557.8 C963.5,556.9 960.6,556 957.7,555 C954.8,554 952,553 949.2,551.9 C946.4,550.9 943.6,549.8 940.9,548.7 C938.2,547.6 935.6,546.4 933,545.2 C930.4,544.1 927.8,542.8 925.3,541.6 C922.8,540.4 920.4,539.1 918,537.8 C915.6,536.5 913.3,535.1 911.1,533.8 C908.8,532.4 906.6,531 904.4,529.6 C902.3,528.2 900.2,526.7 898.2,525.3 C896.2,523.8 894.2,522.3 892.4,520.8 C890.5,519.3 888.7,517.7 886.9,516.2 C885.2,514.6 883.5,513 881.9,511.4 C880.3,509.8 878.7,508.2 877.3,506.6 C875.8,504.9 874.4,503.3 873.1,501.6 C871.7,499.9 870,497.4 869.3,496.5"/><path d="M866.2,387.2 C865.4,389.9 862.5,397.8 861.3,403.5 C860.1,409.2 859.4,414.6 858.9,421.4 C858.4,428.2 858,436.4 858.1,444.3 C858.2,452.2 858.6,461.9 859.7,468.8 C860.8,475.8 863,481.4 864.6,486 C866.2,490.6 868.5,494.8 869.3,496.5"/><path d="M1298,456.5 C1298.2,455.2 1298.5,451.4 1299,449 C1299.5,446.6 1300.7,443.2 1301,442.1"/><path d="M902.2,354.5 C898.9,357.8 887.5,367.3 882.6,374.1 C877.7,380.9 875.1,388.5 872.8,395.3 C870.5,402.1 869.2,408.4 868.7,414.9 C868.2,421.4 868.3,428 869.5,434.5 C870.7,441 872.7,447.8 876,454.1 C879.3,460.4 883.9,466.7 889.1,472.1 C894.3,477.6 900.2,482.5 907,486.8 C913.8,491.1 926.2,496.1 930,498"/><path d="M889.1,400.2 C888.7,402.6 886.9,410.3 886.6,414.9 C886.3,419.5 886.5,423.1 887.5,428 C888.5,432.9 891.6,441.6 892.4,444.3"/><path d="M886,452 C888.3,455.3 894.3,466 900,472 C905.7,478 911.9,483.3 920,488 C928.1,492.7 937.8,495.9 948.6,500.1 C959.4,504.3 972.2,509.3 985,513 C997.8,516.7 1010.4,519.9 1025.4,522.1 C1040.4,524.4 1058.1,525.8 1075,526.5 C1091.9,527.2 1111.2,527.5 1127,526.2 C1142.8,525 1156.3,522.8 1170,519 C1183.7,515.2 1198,508.9 1209.3,503.6 C1220.6,498.4 1233.2,490.2 1238,487.5"/><path d="M888.2,409.6 C891,406.3 897.2,395.9 905,390 C912.8,384.1 923.2,378.9 934.9,373.9 C946.6,368.9 961.3,363.6 975,360 C988.7,356.4 1003,353.9 1017.2,352 C1031.4,350.1 1046.3,349 1060,348.5 C1073.7,348 1086,347.7 1099.5,349.2 C1113,350.7 1133.8,356 1140.7,357.4"/><path d="M889,418 C892,414.5 899.2,403.2 907,397 C914.8,390.8 924.5,386 936,381 C947.5,376 962.3,370.7 976,367 C989.7,363.3 1004,360.9 1018,359 C1032,357.1 1046.5,356.2 1060,355.8 C1073.5,355.4 1085.7,355.2 1099,356.6 C1112.3,358 1133.2,362.8 1140,364"/><path d="M1195.6,368.4 C1200.5,370 1215.8,374.3 1225,378 C1234.2,381.7 1244.2,387.2 1250.5,390.4 C1256.8,393.6 1260,394.9 1263,397 C1266,399.1 1267.3,400 1268.5,403 C1269.7,406 1269.8,411.2 1270,415 C1270.2,418.8 1270,422.4 1269.5,426 C1269,429.6 1267.4,434.8 1267,436.5"/><path d="M1267,436.5 L1267.5,443 L1274.5,444.5 L1277.5,440 L1268,438"/><path d="M1247.2,451.9 L1251.5,446.1 L1273.6,449 L1276.5,445"/><path d="M1247.2,451.9 L1277.5,454.8"/><path d="M1247.2,451.9 L1245.8,481.7"/><path d="M1195,374 C1199.8,375.7 1215.2,380.4 1224,384 C1232.8,387.6 1241.7,392.2 1248,395.5 C1254.3,398.8 1259.7,402.6 1262,404"/><path d="M884,398 C885.5,395.8 889.5,389.2 893,385 C896.5,380.8 900.5,377 905,373 C909.5,369 915,365 920,361 C925,357 928.3,352.9 935,349 C941.7,345.1 951.7,341 960,337.6 C968.3,334.2 976.4,331.2 985,328.5 C993.6,325.8 1007.1,322.8 1011.5,321.6"/><path d="M1011.5,321.6 L1010.6,313.6 L1027.5,311 L1032,320.7"/><path d="M1032,320.7 C1038.3,320.1 1057.1,317.3 1070,317 C1082.9,316.7 1102.8,318.7 1109.3,319"/><path d="M1109.3,319 L1112.8,309.2 L1133.3,311.9 L1130.6,321.6"/><path d="M892,404 C893.8,401.8 899,395.2 903,391 C907,386.8 911.3,383 916,379 C920.7,375 926,370.7 931,367 C936,363.3 939.8,360.5 946,357 C952.2,353.5 960.3,349.3 968,346 C975.7,342.7 984.3,339.6 992,337 C999.7,334.4 1006,332.3 1014,330.5 C1022,328.7 1029.8,327.2 1040,326 C1050.2,324.8 1063.3,323.7 1075,323.5 C1086.7,323.3 1104.2,324.8 1110,325"/><path d="M883.7,397.7 L884.5,389 L892,388.3 L893,395"/><path d="M904.8,379 L906,374.3 L918.8,374.3 L916,379"/><path d="M923.5,346.2 L926,339.2 L937.6,339.2 L935,346"/><circle cx="908" cy="371" r="1.4"/><path d="M883,444 L883.5,439 L892,440 L892,446 L906,447"/><path d="M925,494 L943,484 L948,487.5 L930,497.5"/><path d="M934,497 L946,490.5"/><path d="M948.7,503 L955.7,498.6 L1021.8,518.6 L1024.5,525.5"/><path d="M1043,526 L1045,521.5 L1124.5,520 L1126.5,525.5"/><path d="M1212,502 L1222,496 L1230,499"/><path d="M1109.3,319 L1112.8,309.2 L1133.9,310.5 L1130.6,321.9"/><path d="M1112,305.2 L1144.5,306.8"/><path d="M1130.6,321.9 L1137.1,322.8 L1144.5,306.8"/><path d="M1137.1,322.8 L1144.5,352.1 L1151.8,335 L1144.5,306.8"/><path d="M1130.6,321.9 L1139.6,359.5"/><path d="M1151.8,335 L1185.3,344 L1181.2,364.4 L1144.5,352.1"/><ellipse cx="1170.2" cy="351.3" rx="9.6" ry="5.5"/><path d="M1139.6,359.5 L1160,365 L1186.9,373.4 L1189.4,370.9"/><path d="M1186.9,338.3 L1209,325.2 L1224.5,339.9 L1222,342.3 L1217.1,344"/><path d="M1190.2,339.9 L1209.8,332.6 L1222,339.1"/><path d="M1186.9,338.3 L1190.2,339.9 L1189.4,370.9"/><path d="M1186.9,338.3 L1186.9,373.4"/><path d="M1209.8,332.6 L1205.7,361.9 L1189.4,370.9"/><path d="M1217.1,344 L1217.1,351 L1240,363"/><path d="M1205.7,361.9 L1240,377"/><path d="M1154.4,362.9 L1158.5,508.4"/><path d="M1177.7,371.2 L1179.1,505.6"/><path d="M1191.5,373.9 L1192.9,500.1"/><path d="M1158.5,508.4 L1168,505 L1179.1,505.6"/><path d="M1160,505 L1164,500 L1178,500"/><circle cx="1167" cy="509" r="1.5"/><path d="M961,412.3 L961,434.3 L912.9,454.9 L915.7,486.4"/><path d="M961,412.3 L987,406.8 L1033.7,398.6 L1036.4,400 L1036.4,417.8 L1083.1,416.4 L1088.6,420.6 L1089.9,502.9"/><path d="M987,406.8 L987,439.8 L915.7,478.2"/><path d="M987,439.8 L1009,450.7 L1039.2,457.6 L1088.6,474.1"/><path d="M1007.6,404.1 L1007.6,450.7"/><path d="M1009,404.1 L1033.7,417.8 L1039.2,419.2 L1039.2,457.6"/><path d="M1040.5,419 L1040.5,457.8" style="stroke-width:1.2"/><path d="M1058.4,417.8 L1058.4,459"/><path d="M1022.7,470 L1072.1,494.7 L1091.3,502.9 L1140.7,508.4 L1147.6,516.6"/><path d="M1072,485 L1072,494.7"/><path d="M993,476.5 L1026,461.5"/><path d="M996,482.5 L1029.5,467.3"/><ellipse cx="994" cy="479.8" rx="2.6" ry="3.4" transform="rotate(-25 994 479.8)"/><path d="M1026,461.5 C1026.6,461.7 1028.9,461.5 1029.5,462.5 C1030.1,463.5 1029.5,466.5 1029.5,467.3"/><path d="M806.5,339.2 L841.1,322.5"/><path d="M806.5,339.2 L844.6,330.5"/><path d="M844.6,330.5 C848.2,332.5 861.3,339.5 866.5,342.7 C871.7,345.9 873.6,347.1 875.7,349.6 C877.8,352.1 878.7,354.7 879.1,357.6 C879.5,360.5 879,364 878,366.9 C877,369.8 875.3,371.8 873.4,374.9 C871.5,378 867.6,383.6 866.5,385.3"/><path d="M806.5,339.2 C806.4,341 805.8,346.4 806,350 C806.2,353.6 807.4,359.2 807.7,361.1"/><path d="M807.7,361.1 L861.9,389.9"/><path d="M803,350.5 C802.5,351.4 800.7,352.1 800.2,356 C799.7,359.9 799.7,369.9 800.2,373.8 C800.7,377.7 802.6,378.6 803.1,379.5"/><path d="M803.1,379.5 L859.6,408.4"/><path d="M800.5,362 C800.9,362.5 802.6,364.3 803,364.8"/><path d="M803,364.8 L861.9,395.7"/><path d="M801.3,371.5 L860.7,401.4"/><path d="M806.5,380.7 L808.8,420 L813,527"/><path d="M813,527 C813.9,527.5 816.6,529.8 818.2,530.1 C819.8,530.5 821.8,529.3 822.5,529.1"/><path d="M822.5,529.1 L875.3,500.5"/><path d="M815.1,443.5 L820.4,443.5 L857.3,464.6"/><path d="M815.1,443.5 L816.5,526"/><path d="M841.1,304.6 L841.1,322.5"/><path d="M841.1,323 C843.6,323.3 850.3,322.3 856.1,324.8 C861.9,327.3 870.5,335 875.7,338 C880.9,341 883.2,342.1 887.2,342.7 C891.2,343.3 896.2,342.3 900,341.5 C903.8,340.7 907,339.2 910,338 C913,336.8 916.7,334.7 918,334"/><path d="M842.6,300 C842.7,302 841.8,308.7 843,312 C844.2,315.3 846.3,317.5 850,320 C853.7,322.5 859.8,325.2 865,327 C870.2,328.8 875.7,330.2 881.5,331 C887.3,331.8 894.5,331.9 900,331.5 C905.5,331.1 910.4,329.8 914.6,328.5 C918.8,327.2 923.3,324.8 925,324"/><path d="M947,272 C951.8,274.5 970.3,283.5 975.5,286.8 C980.7,290.1 978.4,290.1 978.2,292 C978,293.9 977.9,295.6 974.5,298.4 C971.1,301.2 960.4,307.2 957.6,309"/><path d="M957.6,309 C957.2,308.6 955.8,307.2 955.4,306.8"/><path d="M948,286.8 C948.9,288.2 952.1,291.9 953.3,295.2 C954.5,298.5 955,304.9 955.4,306.8"/><ellipse cx="897.4" cy="267.2" rx="36.5" ry="20.6" style="stroke-width:2.4"/><path d="M856.6,266.5 C856.6,266.1 856.7,264.9 856.8,264 C857,263.2 857.2,262.4 857.5,261.6 C857.8,260.8 858.2,260 858.6,259.2 C859,258.4 859.6,257.7 860.1,256.9 C860.7,256.1 861.4,255.4 862.1,254.7 C862.8,254 863.6,253.3 864.4,252.6 C865.3,252 866.2,251.3 867.1,250.7 C868.1,250.1 869.1,249.5 870.2,249 C871.2,248.4 872.3,247.9 873.5,247.4 C874.7,246.9 875.9,246.5 877.1,246.1 C878.3,245.7 879.6,245.3 880.9,244.9 C882.2,244.6 883.6,244.3 884.9,244.1 C886.3,243.8 887.7,243.6 889.1,243.4 C890.5,243.2 891.9,243.1 893.3,243 C894.7,242.9 896.2,242.9 897.6,242.9 C899,242.9 900.5,242.9 901.9,243 C903.3,243.1 904.7,243.2 906.1,243.4 C907.5,243.6 908.9,243.8 910.3,244.1 C911.6,244.3 913,244.6 914.3,244.9 C915.6,245.3 916.9,245.7 918.1,246.1 C919.3,246.5 920.5,246.9 921.7,247.4 C922.9,247.9 924,248.4 925,249 C926.1,249.5 927.1,250.1 928.1,250.7 C929,251.3 929.9,252 930.8,252.6 C931.6,253.3 932.4,254 933.1,254.7 C933.8,255.4 934.5,256.1 935.1,256.9 C935.6,257.7 936.2,258.4 936.6,259.2 C937,260 937.4,260.8 937.7,261.6 C938,262.4 938.2,263.2 938.4,264 C938.5,264.9 938.6,266.1 938.6,266.5" style="stroke-width:2"/><path d="M938,271.8 C937.8,272.2 937.5,273.2 937.1,273.8 C936.8,274.5 936.4,275.1 936,275.8 C935.5,276.4 935,277 934.5,277.6 C933.9,278.3 933.3,278.9 932.6,279.4 C932,280 931.2,280.6 930.5,281.1 C929.7,281.7 928.9,282.2 928.1,282.7 C927.2,283.2 926.3,283.7 925.4,284.2 C924.5,284.6 923.5,285.1 922.5,285.5 C921.5,285.9 920.4,286.3 919.3,286.7 C918.2,287 917.1,287.4 916,287.7 C914.9,288 913.7,288.2 912.5,288.5 C911.3,288.7 910.1,289 908.9,289.1 C907.7,289.3 906.4,289.5 905.2,289.6 C903.9,289.7 902.7,289.8 901.4,289.9 C900.1,290 898.9,290 897.6,290 C896.3,290 895.1,290 893.8,289.9 C892.5,289.8 891.3,289.7 890,289.6 C888.8,289.5 887.5,289.3 886.3,289.1 C885.1,289 883.9,288.7 882.7,288.5 C881.5,288.2 880.3,288 879.2,287.7 C878.1,287.4 877,287 875.9,286.7 C874.8,286.3 873.7,285.9 872.7,285.5 C871.7,285.1 870.7,284.6 869.8,284.2 C868.9,283.7 868,283.2 867.1,282.7 C866.3,282.2 865.5,281.7 864.7,281.1 C864,280.6 863.2,280 862.6,279.4 C861.9,278.9 861.3,278.3 860.7,277.6 C860.2,277 859.7,276.4 859.2,275.8 C858.8,275.1 858.4,274.5 858.1,273.8 C857.7,273.2 857.4,272.2 857.2,271.8" style="stroke-width:1.4"/><path d="M856.6,266.5 L856.8,283"/><path d="M938.6,266.5 L938.4,283"/><path d="M849.8,274 C850,272.7 849.9,268.3 851,266 C852.1,263.7 855.7,261 856.6,260"/><path d="M938.6,261 C939.5,261.8 942.8,264 944,266 C945.2,268 945.6,271.8 945.9,273"/><path d="M849.8,274 L849.8,306"/><path d="M945.9,273 L945.9,301"/><path d="M945.3,284 C945.2,284.3 944.8,285.1 944.5,285.7 C944.1,286.2 943.7,286.8 943.2,287.3 C942.7,287.9 942.1,288.4 941.5,288.9 C940.9,289.5 940.2,290 939.4,290.5 C938.7,291 937.8,291.4 937,291.9 C936.1,292.4 935.1,292.8 934.1,293.3 C933.1,293.7 932.1,294.1 931,294.5 C929.9,294.9 928.7,295.3 927.5,295.6 C926.3,296 925.1,296.3 923.8,296.6 C922.5,296.9 921.2,297.2 919.8,297.5 C918.5,297.8 917.1,298 915.7,298.2 C914.3,298.4 912.8,298.6 911.4,298.8 C909.9,298.9 908.4,299.1 906.9,299.2 C905.4,299.3 903.9,299.4 902.4,299.4 C900.9,299.5 899.3,299.5 897.8,299.5 C896.3,299.5 894.7,299.5 893.2,299.4 C891.7,299.4 890.2,299.3 888.7,299.2 C887.2,299.1 885.7,298.9 884.2,298.8 C882.8,298.6 881.3,298.4 879.9,298.2 C878.5,298 877.1,297.8 875.8,297.5 C874.4,297.2 873.1,296.9 871.8,296.6 C870.5,296.3 869.3,296 868.1,295.6 C866.9,295.3 865.7,294.9 864.6,294.5 C863.5,294.1 862.5,293.7 861.5,293.3 C860.5,292.8 859.5,292.4 858.6,291.9 C857.8,291.4 856.9,291 856.2,290.5 C855.4,290 854.7,289.5 854.1,288.9 C853.5,288.4 852.9,287.9 852.4,287.3 C851.9,286.8 851.5,286.2 851.1,285.7 C850.8,285.1 850.4,284.3 850.3,284" style="stroke-width:2.6"/><path d="M945.3,291.5 C945.2,291.8 944.8,292.6 944.5,293.2 C944.1,293.7 943.7,294.3 943.2,294.8 C942.7,295.4 942.1,295.9 941.5,296.4 C940.9,297 940.2,297.5 939.4,298 C938.7,298.5 937.8,298.9 937,299.4 C936.1,299.9 935.1,300.3 934.1,300.8 C933.1,301.2 932.1,301.6 931,302 C929.9,302.4 928.7,302.8 927.5,303.1 C926.3,303.5 925.1,303.8 923.8,304.1 C922.5,304.4 921.2,304.7 919.8,305 C918.5,305.3 917.1,305.5 915.7,305.7 C914.3,305.9 912.8,306.1 911.4,306.3 C909.9,306.4 908.4,306.6 906.9,306.7 C905.4,306.8 903.9,306.9 902.4,306.9 C900.9,307 899.3,307 897.8,307 C896.3,307 894.7,307 893.2,306.9 C891.7,306.9 890.2,306.8 888.7,306.7 C887.2,306.6 885.7,306.4 884.2,306.3 C882.8,306.1 881.3,305.9 879.9,305.7 C878.5,305.5 877.1,305.3 875.8,305 C874.4,304.7 873.1,304.4 871.8,304.1 C870.5,303.8 869.3,303.5 868.1,303.1 C866.9,302.8 865.7,302.4 864.6,302 C863.5,301.6 862.5,301.2 861.5,300.8 C860.5,300.3 859.5,299.9 858.6,299.4 C857.8,298.9 856.9,298.5 856.2,298 C855.4,297.5 854.7,297 854.1,296.4 C853.5,295.9 852.9,295.4 852.4,294.8 C851.9,294.3 851.5,293.7 851.1,293.2 C850.8,292.6 850.4,291.8 850.3,291.5" style="stroke-width:3"/><path d="M945.1,301.6 C944.9,301.9 944.5,302.7 944.1,303.3 C943.7,303.8 943.2,304.3 942.7,304.9 C942.2,305.4 941.6,305.9 940.9,306.4 C940.3,306.9 939.6,307.4 938.8,307.9 C938,308.3 937.2,308.8 936.3,309.2 C935.4,309.7 934.5,310.1 933.5,310.5 C932.5,311 931.4,311.4 930.3,311.7 C929.2,312.1 928.1,312.5 926.9,312.8 C925.7,313.2 924.5,313.5 923.2,313.8 C922,314.1 920.7,314.3 919.3,314.6 C918,314.8 916.6,315.1 915.3,315.3 C913.9,315.5 912.5,315.6 911,315.8 C909.6,316 908.1,316.1 906.7,316.2 C905.2,316.3 903.7,316.4 902.3,316.4 C900.8,316.5 899.3,316.5 897.8,316.5 C896.3,316.5 894.8,316.5 893.3,316.4 C891.9,316.4 890.4,316.3 888.9,316.2 C887.5,316.1 886,316 884.6,315.8 C883.1,315.6 881.7,315.5 880.3,315.3 C879,315.1 877.6,314.8 876.3,314.6 C874.9,314.3 873.6,314.1 872.4,313.8 C871.1,313.5 869.9,313.2 868.7,312.8 C867.5,312.5 866.4,312.1 865.3,311.7 C864.2,311.4 863.1,311 862.1,310.5 C861.1,310.1 860.2,309.7 859.3,309.2 C858.4,308.8 857.6,308.3 856.8,307.9 C856,307.4 855.3,306.9 854.7,306.4 C854,305.9 853.4,305.4 852.9,304.9 C852.4,304.3 851.9,303.8 851.5,303.3 C851.1,302.7 850.7,301.9 850.5,301.6" style="stroke-width:3.2"/><path d="M944.4,311.4 C944.2,311.6 943.6,312.4 943.2,312.9 C942.7,313.4 942.2,313.9 941.6,314.4 C941,314.8 940.4,315.3 939.7,315.8 C939,316.2 938.3,316.7 937.5,317.1 C936.7,317.6 935.8,318 934.9,318.4 C934,318.8 933.1,319.2 932.1,319.6 C931.1,320 930.1,320.3 929,320.7 C927.9,321 926.8,321.4 925.7,321.7 C924.5,322 923.3,322.3 922.1,322.5 C920.9,322.8 919.6,323 918.3,323.3 C917.1,323.5 915.8,323.7 914.4,323.9 C913.1,324.1 911.7,324.2 910.4,324.4 C909,324.5 907.6,324.6 906.2,324.7 C904.9,324.8 903.4,324.9 902,324.9 C900.6,325 899.2,325 897.8,325 C896.4,325 895,325 893.6,324.9 C892.2,324.9 890.7,324.8 889.4,324.7 C888,324.6 886.6,324.5 885.2,324.4 C883.9,324.2 882.5,324.1 881.2,323.9 C879.8,323.7 878.5,323.5 877.3,323.3 C876,323 874.7,322.8 873.5,322.5 C872.3,322.3 871.1,322 869.9,321.7 C868.8,321.4 867.7,321 866.6,320.7 C865.5,320.3 864.5,320 863.5,319.6 C862.5,319.2 861.6,318.8 860.7,318.4 C859.8,318 858.9,317.6 858.1,317.1 C857.3,316.7 856.6,316.2 855.9,315.8 C855.2,315.3 854.6,314.8 854,314.4 C853.4,313.9 852.9,313.4 852.4,312.9 C852,312.4 851.4,311.6 851.2,311.4" style="stroke-width:3.4"/></g>
<g class="T"><path d="M1022.4,790 C1025.7,788.2 1034.4,783 1042.2,779.4 C1050,775.8 1060.4,771.1 1069.5,768.4 C1078.6,765.7 1089.3,765.1 1096.9,763 C1104.5,760.9 1107.9,759.3 1115.2,755.6 C1122.5,751.9 1136.5,743.4 1140.8,741"/><path d="M1022.4,790 C1022.8,790.3 1023.9,791.3 1024.5,792 C1025.1,792.7 1025.9,794 1026.2,794.4"/><path d="M1039.9,810.6 C1043.6,808.4 1054.2,801 1062.2,797.6 C1070.2,794.2 1079,792.7 1087.8,790.3 C1096.6,787.9 1106.7,786 1115.2,783 C1123.7,780 1132.5,775.1 1138.9,772.1 C1145.3,769.1 1151.1,766 1153.5,764.8"/><path d="M1018.7,790.6 C1016.2,790.3 1009.3,790.3 1003.7,788.7 C998.1,787.1 989.6,782.6 985,781.2 C980.4,779.9 978.9,779.8 976.2,780.6 C973.5,781.4 970.2,783.8 968.7,786.2 C967.2,788.6 966.7,792.3 966.9,795 C967.1,797.7 968,800.2 970,802.5 C972,804.8 974.1,806.2 978.7,808.7 C983.3,811.2 991.9,814.6 997.5,817.5 C1003.1,820.4 1008,823.3 1012.4,826.2 C1016.8,829.1 1021.2,832.6 1023.7,834.9 C1026.2,837.2 1026.8,839.1 1027.4,839.9"/><path d="M988.7,783.7 L1005,791.2 L1039.9,810.6"/><path d="M1039.9,810.6 C1041.6,812.6 1047.2,818.1 1049.9,822.4 C1052.6,826.7 1055.2,831.6 1056.2,836.2 C1057.2,840.8 1057,845.5 1056.2,849.9 C1055.4,854.3 1053.9,858.6 1051.2,862.4 C1048.5,866.1 1044.3,869.5 1039.9,872.4 C1035.5,875.3 1028,878.5 1024.9,879.9 C1021.8,881.3 1022.1,880.8 1021.5,881"/><path d="M1023.7,813.7 C1024.7,815.4 1028.7,820.2 1029.9,823.7 C1031.2,827.2 1031.6,831.6 1031.2,834.9 C1030.8,838.2 1029.5,841 1027.4,843.7 C1025.3,846.4 1022.2,848.9 1018.7,851.2 C1015.2,853.5 1008.3,856.4 1006.2,857.4"/><path d="M1021.5,881 L1069.9,878.6 L1143.8,874.5" style="stroke-width:2.2"/><path d="M1173.5,764.3 L1188.4,851" style="stroke-width:2.2"/><path d="M978.1,857.4 L991.8,849.3 L997.5,857.4 L983.7,865.5Z" style="stroke-width:1.6;fill:#000;stroke-linejoin:miter"/><path d="M982.2,856 L986.6,862.2 M988.2,852.6 L992.6,858.8" style="stroke:#fff;stroke-width:1.2"/><path d="M985,866.2 C986.3,865.3 990.3,862 993,861 C995.7,860 998,859.2 1001.2,859.9 C1004.4,860.5 1009.5,863.2 1012.4,864.9 C1015.3,866.6 1017.2,867.8 1018.7,869.9 C1020.2,872 1021.2,874.7 1021.2,877.4 C1021.2,880.1 1020.6,883.4 1018.7,886.1 C1016.8,888.8 1012.9,891.9 1010,893.6 C1007.1,895.3 1002.7,895.7 1001.2,896.1" style="stroke-width:2.7"/><path d="M994,864.5 C995.7,864.8 1001.2,864.9 1004,866 C1006.8,867.1 1009.2,868.8 1011,871 C1012.8,873.2 1014.3,876.3 1014.5,879 C1014.7,881.7 1013.6,884.7 1012,887 C1010.4,889.3 1006.2,892 1005,893" style="stroke-width:2.2"/><path d="M999.5,863.5 C1000.8,863.8 1004.6,864.2 1007,865.5 C1009.4,866.8 1012.3,869.2 1014,871.5 C1015.7,873.8 1016.5,878.2 1017,879.5" style="stroke-width:1.6"/><path d="M1013.5,871 L1019.5,869.5 L1020.5,879.5 L1015.5,885.5 L1013.5,881" style="stroke-width:1.8"/><path d="M1015.5,877 L1016,884" style="stroke-width:2.2"/><ellipse cx="983" cy="886" rx="9.5" ry="13.5" transform="rotate(-28 983 886)" style="stroke-width:2.7"/><ellipse cx="983.5" cy="886.5" rx="6.3" ry="10" transform="rotate(-28 983.5 886.5)" style="stroke-width:1.8"/><path d="M976,875 L994,866.5" style="stroke-width:2.2"/><path d="M990,898 L1001.2,896.1" style="stroke-width:2.2"/><path d="M1133.5,726.4 L1148,718.2 L1153.5,724.6 L1138.9,733.7Z" style="stroke-width:1.6;fill:#000;stroke-linejoin:miter"/><path d="M1137.6,725.2 L1142,731.4 M1143.6,721.8 L1148,728" style="stroke:#fff;stroke-width:1.2"/><path d="M1140.8,737.5 C1142.3,736.4 1146.7,732.5 1150,731 C1153.3,729.5 1158,728.7 1160.8,728.3 C1163.6,727.9 1164.9,728.2 1167,728.5 C1169.1,728.8 1171.8,729.2 1173.6,730.1 C1175.4,731 1177.1,732.4 1178,734 C1178.9,735.6 1178.9,737.3 1179.1,740 C1179.3,742.7 1179.8,747.2 1179.1,750 C1178.4,752.8 1176.8,754.8 1175,756.5 C1173.2,758.2 1170.4,758.6 1168,760 C1165.6,761.4 1163.2,764 1160.8,764.8 C1158.4,765.6 1154.7,764.8 1153.5,764.8" style="stroke-width:2.7"/><path d="M1149,737 C1150.5,736.6 1155.5,734.2 1158,734.5 C1160.5,734.8 1162.4,736.9 1164,739 C1165.6,741.1 1167,744.3 1167.5,747 C1168,749.7 1167.8,752.7 1167,755 C1166.2,757.3 1163.7,760 1163,761" style="stroke-width:2.2"/><path d="M1155,734 C1156.2,733.9 1159.8,733 1162,733.5 C1164.2,734 1166.5,735.1 1168,737 C1169.5,738.9 1170.5,742.5 1171,745 C1171.5,747.5 1171,750.8 1171,752" style="stroke-width:1.6"/><path d="M1168.5,744 L1173.5,742 L1174,752 L1169.5,757.5" style="stroke-width:1.8"/><path d="M1160.8,728.3 C1162.3,728.8 1167.5,729 1170,731 C1172.5,733 1174.8,737.2 1176,740 C1177.2,742.8 1176.8,746.7 1177,748" style="stroke-width:1.4"/><path d="M1140.8,741 C1141.5,740.5 1143.6,738.7 1145,738 C1146.4,737.3 1148.3,737.2 1149,737"/><path d="M1153.5,764.8 C1153.9,764.9 1155.2,765.5 1156,765.5 C1156.8,765.5 1157.7,765.1 1158,765"/></g>
</svg></body></html>
